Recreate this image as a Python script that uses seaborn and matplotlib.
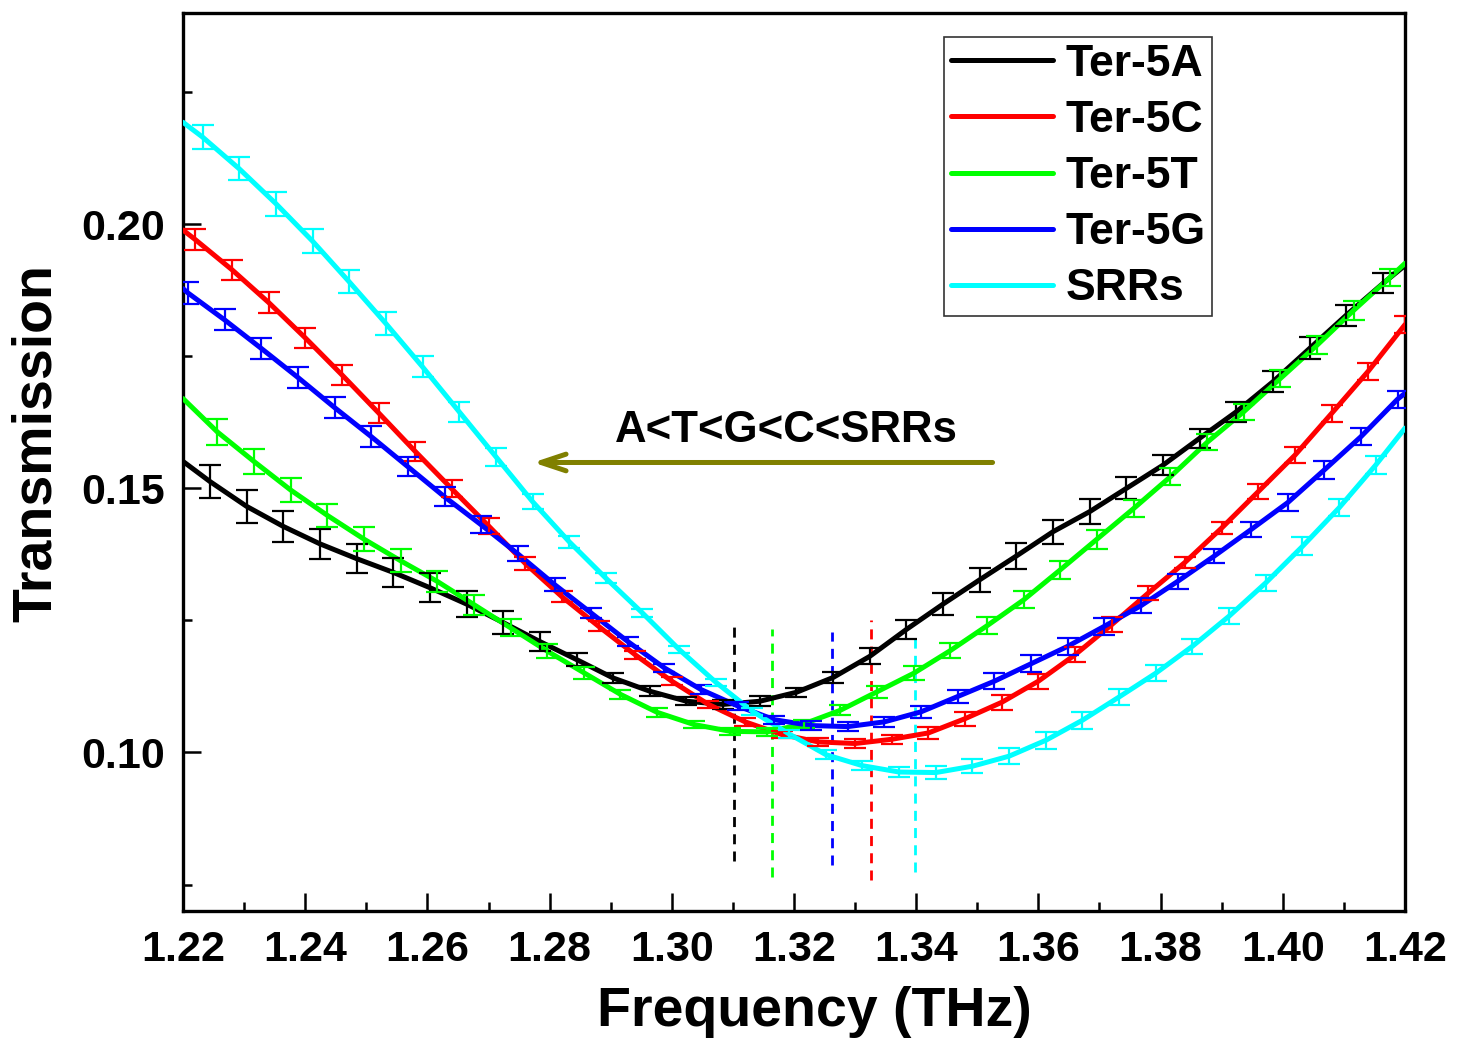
import numpy as np
import pandas as pd
import matplotlib
matplotlib.use("Agg")
import matplotlib.pyplot as plt
import seaborn as sns

# ---------------- data ----------------
series_names = ["Ter-5A", "Ter-5C", "Ter-5T", "Ter-5G", "SRRs"]
series_colors = ["#000000", "#FF0000", "#00FF00", "#0000FF", "#00FFFF"]

# first error-bar frequency of each series (THz); bars every 0.006 THz
freq_first = [1.2244, 1.2220, 1.2256, 1.2208, 1.2232]
freq_step = 0.006
freq_range = [1.22, 1.42]

trans_A = [0.1513, 0.1466, 0.1428, 0.1395, 0.1367, 0.1341, 0.1312, 0.1281, 0.1246, 0.1210,
           0.1176, 0.1141, 0.1116, 0.1097, 0.1091, 0.1097, 0.1114, 0.1142, 0.1182, 0.1233,
           0.1281, 0.1327, 0.1372, 0.1418, 0.1456, 0.1500, 0.1544, 0.1595, 0.1645, 0.1702,
           0.1765, 0.1828, 0.1888]
err_A = [0.0032, 0.0031, 0.0029, 0.0028, 0.0028, 0.0028, 0.0027, 0.0025, 0.0022, 0.0018,
         0.0012, 0.0010, 0.0009, 0.0008, 0.0008, 0.0009, 0.0009, 0.0011, 0.0015, 0.0018,
         0.0021, 0.0023, 0.0024, 0.0023, 0.0023, 0.0021, 0.0019, 0.0018, 0.0019, 0.0020,
         0.0021, 0.0020, 0.0019]
edge_A = [0.1551, 0.1922]

trans_C = [0.1971, 0.1914, 0.1852, 0.1785, 0.1715, 0.1643, 0.1570, 0.1499, 0.1429, 0.1358,
           0.1295, 0.1239, 0.1185, 0.1135, 0.1091, 0.1058, 0.1034, 0.1020, 0.1017, 0.1025,
           0.1037, 0.1064, 0.1095, 0.1135, 0.1185, 0.1242, 0.1302, 0.1360, 0.1425, 0.1494,
           0.1563, 0.1642, 0.1722, 0.1810]
err_C = [0.0020, 0.0019, 0.0020, 0.0019, 0.0019, 0.0019, 0.0018, 0.0016, 0.0015, 0.0013,
         0.0011, 0.0009, 0.0008, 0.0007, 0.0007, 0.0007, 0.0007, 0.0007, 0.0008, 0.0009,
         0.0011, 0.0013, 0.0014, 0.0014, 0.0014, 0.0014, 0.0013, 0.0011, 0.0011, 0.0014,
         0.0015, 0.0016, 0.0016, 0.0016]
edge_C = [0.1989, 0.1810]

trans_T = [0.1607, 0.1551, 0.1497, 0.1449, 0.1404, 0.1363, 0.1324, 0.1280, 0.1236, 0.1192,
           0.1151, 0.1110, 0.1076, 0.1053, 0.1040, 0.1039, 0.1054, 0.1080, 0.1115, 0.1150,
           0.1193, 0.1240, 0.1289, 0.1346, 0.1404, 0.1462, 0.1522, 0.1587, 0.1645, 0.1708,
           0.1771, 0.1837, 0.1900]
err_T = [0.0024, 0.0023, 0.0022, 0.0022, 0.0022, 0.0022, 0.0020, 0.0019, 0.0016, 0.0014,
         0.0011, 0.0009, 0.0008, 0.0007, 0.0007, 0.0007, 0.0008, 0.0009, 0.0011, 0.0013,
         0.0014, 0.0016, 0.0016, 0.0017, 0.0018, 0.0016, 0.0016, 0.0015, 0.0015, 0.0016,
         0.0017, 0.0018, 0.0016]
edge_T = [0.1670, 0.1926]

trans_G = [0.1870, 0.1819, 0.1765, 0.1710, 0.1653, 0.1598, 0.1541, 0.1484, 0.1431, 0.1376,
           0.1318, 0.1264, 0.1210, 0.1160, 0.1119, 0.1088, 0.1062, 0.1051, 0.1049, 0.1058,
           0.1077, 0.1106, 0.1135, 0.1168, 0.1201, 0.1239, 0.1278, 0.1324, 0.1372, 0.1422,
           0.1473, 0.1535, 0.1598, 0.1669]
err_G = [0.0021, 0.0020, 0.0020, 0.0020, 0.0020, 0.0020, 0.0018, 0.0018, 0.0016, 0.0014,
         0.0012, 0.0010, 0.0009, 0.0008, 0.0008, 0.0008, 0.0008, 0.0008, 0.0008, 0.0009,
         0.0011, 0.0013, 0.0015, 0.0016, 0.0016, 0.0016, 0.0014, 0.0014, 0.0013, 0.0014,
         0.0016, 0.0017, 0.0016, 0.0016]
edge_G = [0.1878, 0.1680]

trans_S = [0.2165, 0.2105, 0.2039, 0.1968, 0.1891, 0.1812, 0.1730, 0.1645, 0.1560, 0.1475,
           0.1399, 0.1330, 0.1264, 0.1195, 0.1133, 0.1078, 0.1035, 0.0996, 0.0975, 0.0963,
           0.0962, 0.0974, 0.0993, 0.1023, 0.1061, 0.1105, 0.1150, 0.1201, 0.1258, 0.1321,
           0.1390, 0.1463, 0.1544]
err_S = [0.0023, 0.0022, 0.0023, 0.0023, 0.0022, 0.0022, 0.0020, 0.0019, 0.0017, 0.0014,
         0.0011, 0.0009, 0.0007, 0.0007, 0.0007, 0.0007, 0.0007, 0.0008, 0.0009, 0.0010,
         0.0013, 0.0013, 0.0015, 0.0016, 0.0016, 0.0015, 0.0015, 0.0014, 0.0015, 0.0015,
         0.0017, 0.0016, 0.0017]
edge_S = [0.2193, 0.1614]

# resonance markers (dashed lines)
res_freq = [1.3102, 1.3326, 1.3164, 1.3262, 1.3398]
res_top = [0.1238, 0.1251, 0.1233, 0.1229, 0.1219]
res_bottom = [0.0794, 0.0758, 0.0764, 0.0787, 0.0773]

annot_text = "A<T<G<C<SRRs"
arrow_from = [1.3525, 0.1549]
arrow_to = [1.2773, 0.1549]
annot_pos = [1.3187, 0.1588]

x_ticks = [1.22, 1.24, 1.26, 1.28, 1.30, 1.32, 1.34, 1.36, 1.38, 1.40, 1.42]
y_ticks = [0.10, 0.15, 0.20]
y_range = [0.07, 0.24]

trans_all = [trans_A, trans_C, trans_T, trans_G, trans_S]
err_all = [err_A, err_C, err_T, err_G, err_S]
edge_all = [edge_A, edge_C, edge_T, edge_G, edge_S]

# ---------------- style ----------------
sns.set_theme(style="ticks")
plt.rcParams["font.family"] = ["Liberation Sans", "DejaVu Sans"]
plt.rcParams["font.weight"] = "bold"
plt.rcParams["axes.labelweight"] = "bold"
plt.rcParams["text.color"] = "black"
plt.rcParams["axes.labelcolor"] = "black"
plt.rcParams["xtick.color"] = "black"
plt.rcParams["ytick.color"] = "black"
plt.rcParams["axes.edgecolor"] = "black"

fig = plt.figure(figsize=(14.62, 10.38), dpi=100)
ax = fig.add_axes([0.1252, 0.1224, 0.8358, 0.8651])

for name, color, f0, vals, errs, edge in zip(series_names, series_colors, freq_first,
                                              trans_all, err_all, edge_all):
    fx = np.round(f0 + freq_step * np.arange(len(vals)), 4)
    line_x = np.concatenate([[freq_range[0]], fx, [freq_range[1]]])
    line_y = np.concatenate([[edge[0]], vals, [edge[1]]])
    df = pd.DataFrame({"Frequency": line_x, "Transmission": line_y})
    sns.lineplot(data=df, x="Frequency", y="Transmission", color=color, linewidth=3.6,
                 label=name, ax=ax, sort=False, zorder=3)
    ax.errorbar(fx, vals, yerr=errs, fmt="none", ecolor=color, elinewidth=1.6,
                capsize=8, capthick=1.6, zorder=4, clip_on=True)

for f, top, bot, color in zip(res_freq, res_top, res_bottom, series_colors):
    ax.vlines(f, bot, top, colors=color, linestyles=(0, (3.6, 2.6)), linewidth=2.0, zorder=2)

ax.annotate("", xy=(arrow_to[0], arrow_to[1]), xytext=(arrow_from[0], arrow_from[1]),
            arrowprops=dict(arrowstyle="->,head_length=0.9,head_width=0.3",
                            color="#808000", lw=3.6, mutation_scale=20,
                            shrinkA=0, shrinkB=0))
ax.text(annot_pos[0], annot_pos[1], annot_text, ha="center", va="baseline",
        fontsize=31.5, fontweight="bold", color="black")

ax.set_xlim(freq_range)
ax.set_ylim(y_range)
ax.set_xticks(x_ticks)
ax.set_xticklabels([f"{t:.2f}" for t in x_ticks])
ax.set_yticks(y_ticks)
ax.set_yticklabels([f"{t:.2f}" for t in y_ticks])
ax.set_xticks([t + 0.01 for t in x_ticks[:-1]], minor=True)
ax.set_yticks([0.075, 0.125, 0.175, 0.225], minor=True)
ax.tick_params(axis="both", which="major", direction="in", length=13, width=1.8,
               labelsize=31, pad=14, top=False, right=False, colors="black")
ax.tick_params(axis="y", which="major", pad=13)
ax.tick_params(axis="both", which="minor", direction="in", length=6.5, width=1.8,
               top=False, right=False, colors="black")
for lbl in ax.get_xticklabels() + ax.get_yticklabels():
    lbl.set_fontweight("bold")
    lbl.set_color("black")
for sp in ax.spines.values():
    sp.set_linewidth(2.4)
    sp.set_color("black")
    sp.set_visible(True)

ax.set_xlabel("Frequency (THz)", fontsize=40, fontweight="bold", color="black")
ax.set_ylabel("Transmission", fontsize=40, fontweight="bold", color="black")
ax.xaxis.set_label_coords(0.517, -0.084)
ax.yaxis.set_label_coords(-0.098, 0.521)

handles, labels = ax.get_legend_handles_labels()
leg = ax.legend(handles, labels, loc="upper left", bbox_to_anchor=(0.623, 0.973),
                fontsize=32, frameon=True, fancybox=False, edgecolor="#333333",
                framealpha=1, borderpad=0.15, handlelength=2.3, handletextpad=0.27,
                labelspacing=0.34, borderaxespad=0)
leg.get_frame().set_linewidth(1.2)
for t in leg.get_texts():
    t.set_fontweight("bold")
    t.set_color("black")
for h in leg.get_lines():
    h.set_linewidth(3.6)

fig.savefig("out.png", dpi=100)
